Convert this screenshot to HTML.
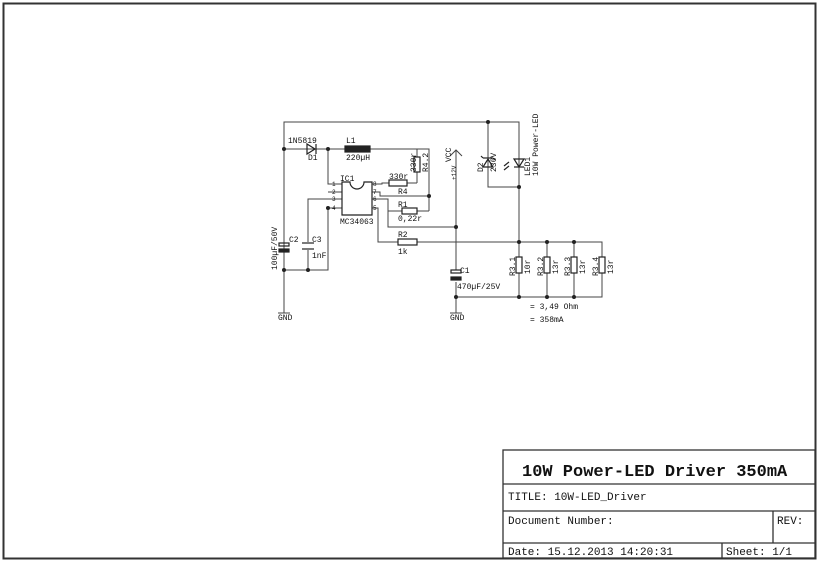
<!DOCTYPE html>
<html><head><style>body{margin:0;background:#fff}svg{display:block}</style></head><body>
<svg width="821" height="566" xmlns="http://www.w3.org/2000/svg" font-family="Liberation Mono, monospace" fill="none" stroke="#333" stroke-width="1">
<rect x="3.5" y="3.5" width="812" height="555" stroke-width="2"/>
<!-- title block -->
<g stroke-width="1.3">
<rect x="503" y="450" width="312" height="108"/>
<line x1="503" y1="484" x2="815" y2="484"/>
<line x1="503" y1="511" x2="815" y2="511"/>
<line x1="503" y1="543" x2="815" y2="543"/>
<line x1="773" y1="511" x2="773" y2="543"/>
<line x1="722" y1="543" x2="722" y2="558"/>
</g>
<g fill="#111" stroke="none">
<text x="522" y="476" font-size="17" font-weight="bold">10W Power-LED Driver 350mA</text>
<text x="508" y="500" font-size="11">TITLE:  10W-LED_Driver</text>
<text x="508" y="524" font-size="11">Document Number:</text>
<text x="777" y="524" font-size="11">REV:</text>
<text x="508" y="555" font-size="11">Date: 15.12.2013 14:20:31</text>
<text x="726" y="555" font-size="11">Sheet: 1/1</text>
</g>
<!-- wires -->
<g stroke="#444">
<polyline points="284,313 284,122 519,122 519,242"/>
<polyline points="284,149 345,149"/>
<polyline points="370,149 429,149 429,211"/>
<line x1="417" y1="149" x2="417" y2="157"/>
<line x1="417" y1="172" x2="417" y2="183"/>
<polyline points="407,183 417,183"/>
<polyline points="328,149 328,184 342,184"/>
<polyline points="342,192 328,192"/>
<polyline points="342,199 308,199 308,242"/>
<polyline points="308,250 308,270"/>
<polyline points="342,208 328,208 328,270 284,270"/>
<polyline points="372,184 382,184 382,183 389,183"/>
<polyline points="372,192 380,192 380,196 429,196"/>
<polyline points="372,199 388,199 388,227 456,227"/>
<polyline points="388,211 402,211"/>
<polyline points="417,211 429,211"/>
<polyline points="372,208 378,208 378,242 398,242"/>
<polyline points="417,242 602,242 602,257"/>
<line x1="456" y1="150" x2="456" y2="270"/>
<line x1="456" y1="282" x2="456" y2="313"/>
<polyline points="456,297 602,297 602,273"/>
<polyline points="488,122 488,187 519,187"/>
<line x1="547" y1="242" x2="547" y2="257"/><line x1="547" y1="273" x2="547" y2="297"/>
<line x1="574" y1="242" x2="574" y2="257"/><line x1="574" y1="273" x2="574" y2="297"/>
<line x1="519" y1="242" x2="519" y2="257"/><line x1="519" y1="273" x2="519" y2="297"/>
<line x1="284" y1="240" x2="284" y2="270"/>
<polyline points="450,156 456,150 462,156"/>
<line x1="278" y1="313" x2="290" y2="313"/><line x1="450" y1="313" x2="462" y2="313"/>
</g>
<!-- components -->
<g stroke="#222" stroke-width="1.2">
<rect x="345" y="146" width="25" height="6" fill="#222"/>
<rect x="414" y="157" width="6" height="15"/>
<rect x="389" y="180" width="18" height="6"/>
<rect x="402" y="208" width="15" height="6"/>
<rect x="398" y="239" width="19" height="6"/>
<rect x="516" y="257" width="6" height="16"/><rect x="544" y="257" width="6" height="16"/>
<rect x="571" y="257" width="6" height="16"/><rect x="599" y="257" width="6" height="16"/>
<path d="M342 182 H350 A7 7 0 0 0 364 182 H372 V215 H342 Z"/>
<polygon points="307,144 307,154 315,149" /><line x1="316" y1="144" x2="316" y2="154"/>
<rect x="279" y="243" width="10" height="3"/><rect x="279" y="249" width="10" height="3" fill="#222"/>
<line x1="302" y1="243" x2="314" y2="243"/><line x1="302" y1="249" x2="314" y2="249"/>
<rect x="451" y="270" width="10" height="3"/><rect x="451" y="277" width="10" height="3" fill="#222"/>
<polygon points="483,167 493,167 488,159"/><line x1="483" y1="158" x2="493" y2="158"/><line x1="483" y1="158" x2="481" y2="156"/><line x1="493" y1="158" x2="495" y2="160"/>
<polygon points="514,159 524,159 519,167"/><line x1="514" y1="167" x2="524" y2="167"/>
<line x1="509" y1="162" x2="504" y2="166"/><line x1="509" y1="166" x2="504" y2="170"/>
</g>
<g fill="#222" stroke="none">
<circle cx="284" cy="149" r="2"/><circle cx="328" cy="149" r="2"/><circle cx="284" cy="270" r="2"/><circle cx="308" cy="270" r="2"/>
<circle cx="328" cy="208" r="2"/><circle cx="429" cy="196" r="2"/><circle cx="456" cy="227" r="2"/><circle cx="456" cy="297" r="2"/>
<circle cx="488" cy="122" r="2"/><circle cx="519" cy="187" r="2"/><circle cx="519" cy="242" r="2"/><circle cx="547" cy="242" r="2"/>
<circle cx="574" cy="242" r="2"/><circle cx="519" cy="297" r="2"/><circle cx="547" cy="297" r="2"/><circle cx="574" cy="297" r="2"/>
</g>
<g fill="#111" stroke="none" font-size="8">
<text x="288" y="143">1N5819</text><text x="308" y="160">D1</text>
<text x="346" y="143">L1</text><text x="346" y="160">220µH</text>
<text x="340" y="181">IC1</text><text x="340" y="224">MC34063</text>
<text x="389" y="179">330r</text><text x="398" y="194">R4</text>
<text x="398" y="207">R1</text><text x="398" y="221">0,22r</text>
<text x="398" y="237">R2</text><text x="398" y="254">1k</text>
<text x="312" y="242">C3</text><text x="312" y="258">1nF</text>
<text x="289" y="242">C2</text>
<text x="278" y="320">GND</text><text x="450" y="320">GND</text>
<text x="460" y="273">C1</text><text x="457" y="289">470µF/25V</text>
<text x="530" y="309">= 3,49 Ohm</text><text x="530" y="322">= 358mA</text>
<g font-size="6"><text x="332" y="186">1</text><text x="332" y="194">2</text><text x="332" y="201">3</text><text x="332" y="210">4</text>
<text x="373" y="186">8</text><text x="373" y="194">7</text><text x="373" y="201">6</text><text x="373" y="210">5</text></g>
<text transform="translate(277,270) rotate(-90)">100µF/50V</text>
<text transform="translate(416,172) rotate(-90)">330r</text>
<text transform="translate(428,172) rotate(-90)">R4.2</text>
<text transform="translate(451,162) rotate(-90)">VCC</text>
<text transform="translate(456,180) rotate(-90)" font-size="6">+12V</text>
<text transform="translate(483,172) rotate(-90)">D2</text>
<text transform="translate(496,172) rotate(-90)">236V</text>
<text transform="translate(530,176) rotate(-90)">LED1</text>
<text transform="translate(538,176) rotate(-90)">10W Power-LED</text>
<text transform="translate(515,276) rotate(-90)">R3.1</text><text transform="translate(530,274) rotate(-90)">10r</text>
<text transform="translate(543,276) rotate(-90)">R3.2</text><text transform="translate(558,274) rotate(-90)">13r</text>
<text transform="translate(570,276) rotate(-90)">R3.3</text><text transform="translate(585,274) rotate(-90)">13r</text>
<text transform="translate(598,276) rotate(-90)">R3.4</text><text transform="translate(613,274) rotate(-90)">13r</text>
</g>
</svg>
</body></html>
